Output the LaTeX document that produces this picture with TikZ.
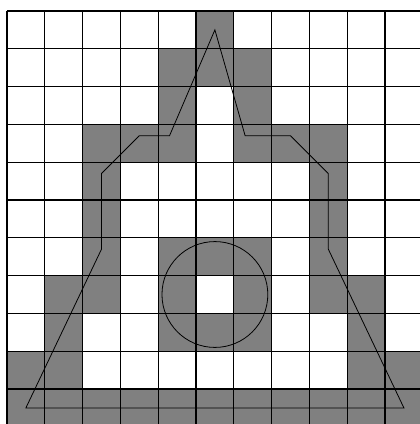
\documentclass[tikz,border=0pt]{standalone}
\begin{document}
\begin{tikzpicture}[x=1cm,y=-1cm,
  cellfill/.style={fill=gray},
  gridline/.style={line width=1pt, draw=black},
  outline/.style={line width=0.6pt, draw=black, line join=miter}]
\useasboundingbox (-0.185,-0.291) rectangle (10.926,10.926);
\clip (-0.185,-0.291) rectangle (10.926,10.926);
% shaded cells (row/column, row 0 at the top)
\foreach \r/\c in {0/5, 1/4,1/5,1/6, 2/4,2/6,
  3/2,3/3,3/4,3/6,3/7,3/8, 4/2,4/8, 5/2,5/8,
  6/2,6/4,6/5,6/6,6/8, 7/1,7/2,7/4,7/6,7/8,7/9,
  8/1,8/4,8/5,8/6,8/9, 9/0,9/1,9/9,9/10}
  \fill[cellfill] (\c,\r) rectangle ++(1,1);
\fill[cellfill] (0,10) rectangle (11,11);
% grid
\draw[gridline] (0,0) grid (11,11);
% outline polygon
\coordinate (apex) at (5.5,0.5);
\coordinate (l1) at (4.3,3.3);
\coordinate (l2) at (3.5,3.3);
\coordinate (l3) at (2.5,4.3);
\coordinate (l4) at (2.5,6.3);
\coordinate (bl) at (0.5,10.5);
\coordinate (br) at (10.5,10.5);
\coordinate (r4) at (8.5,6.3);
\coordinate (r3) at (8.5,4.3);
\coordinate (r2) at (7.5,3.3);
\coordinate (r1) at (6.3,3.3);
\draw[outline] (apex) -- (l1) -- (l2) -- (l3) -- (l4) -- (bl) -- (br)
  -- (r4) -- (r3) -- (r2) -- (r1) -- cycle;
% circle
\coordinate (c) at (5.5,7.5);
\draw[outline] (c) circle (1.4);
\end{tikzpicture}
\end{document}
